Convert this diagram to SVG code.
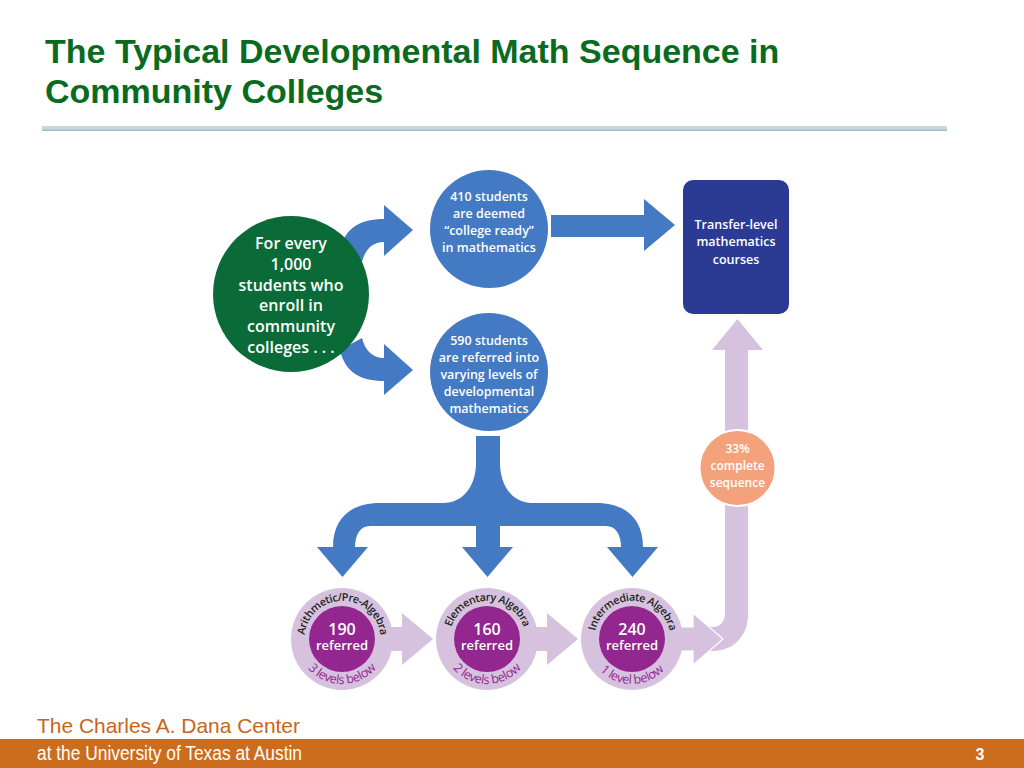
<svg xmlns="http://www.w3.org/2000/svg" width="1024" height="768" viewBox="0 0 1024 768">
<style>
.title{font-family:"Liberation Sans",Arial,sans-serif;font-weight:bold;font-size:34px;fill:#0a6b1e}
.lbl{font-family:"Open Sans","Noto Sans",sans-serif;font-weight:600;fill:#fff;text-anchor:middle}
.ring{font-family:"Open Sans","Noto Sans",sans-serif;font-weight:600;font-size:10.8px;fill:#231f20;letter-spacing:-0.4px}
.below{font-family:"Open Sans","Noto Sans",sans-serif;font-weight:400;font-size:12.5px;fill:#93268f;letter-spacing:-0.3px}
.blue{fill:#437ac3}
.lav{fill:#d6c2df}
.purple{fill:#93268f}
</style>
<defs>
<path id="topA" d="M306.8,651.8 A38,38 0 1,1 378.2,651.8"/>
<path id="topB" d="M451.8,651.8 A38,38 0 1,1 523.2,651.8"/>
<path id="topC" d="M596.8,651.8 A38,38 0 1,1 668.2,651.8"/>
<path id="botA" d="M299.7,623.6 A45,45 0 1,0 384.3,623.6"/>
<path id="botB" d="M444.7,623.6 A45,45 0 1,0 529.3,623.6"/>
<path id="botC" d="M589.7,623.6 A45,45 0 1,0 674.3,623.6"/>
</defs>
<rect width="1024" height="768" fill="#fff"/>

<g id="header">
<text class="title" x="45" y="63">The Typical Developmental Math Sequence in</text>
<text class="title" x="45" y="103">Community Colleges</text>
<rect x="42" y="126" width="905" height="4" fill="#c3dae0"/>
<rect x="42" y="129.5" width="905" height="1.5" fill="#a5bdc4"/>
</g>

<g id="connectors">
<path class="blue" d="M340,250 C345,228 360,219 384,219 L384,205 L413,230 L384,256 L384,242 C372,242 365,250 362,262 Z"/>
<path class="blue" d="M340,350 C345,372 360,381 384,381 L384,395 L413,370 L384,344 L384,358 C372,358 365,350 362,338 Z"/>
<path class="blue" d="M551,215 L644,215 L644,199 L675,225 L644,251 L644,237 L551,237 Z"/>
<path class="blue" d="M476,436 L500,436 L500,463 C500,485 512,503 532,503 L596,503 C625,503 643,518 643,547 L658,547 L632.5,577 L607,547 L621,547 C621,535 616,526 606,526 L500,526 L500,547 L513,547 L487.5,577 L462,547 L476,547 L476,526 L370,526 C360,526 355,535 355,547 L368,547 L342.5,577 L317,547 L333,547 C333,518 351,503 380,503 L443,503 C464,503 476,485 476,463 Z"/>
<path class="lav" d="M705,627 L713,627 C720,627 725,622 725,612 L725,350 L712,350 L737.5,319 L763,350 L748,350 L748,615 C748,636 733,651 713,651 L705,651 Z"/>
<path class="lav" d="M385,627 L402,627 L402,613 L433,639 L402,665 L402,651 L385,651 Z"/>
<path class="lav" d="M530,627 L547,627 L547,613 L578,639 L547,665 L547,651 L530,651 Z"/>
<path class="lav" d="M675,627 L693,627 L693,613 L723,639 L693,665 L693,651 L675,651 Z" stroke="#fff" stroke-width="1.2"/>
</g>

<g id="node-start">
<circle cx="291" cy="294" r="78" fill="#0b6b38"/>
<text class="lbl" font-size="16" x="291" y="249">For every</text>
<text class="lbl" font-size="16" x="291" y="270">1,000</text>
<text class="lbl" font-size="16" x="291" y="291">students who</text>
<text class="lbl" font-size="16" x="291" y="311">enroll in</text>
<text class="lbl" font-size="16" x="291" y="332">community</text>
<text class="lbl" font-size="16" x="291" y="353">colleges . . .</text>
</g>

<g id="node-ready">
<circle cx="489" cy="229" r="59" class="blue"/>
<text class="lbl" font-size="12.5" x="489" y="200.5">410 students</text>
<text class="lbl" font-size="12.5" x="489" y="217.5">are deemed</text>
<text class="lbl" font-size="12.5" x="489" y="234.5">“college ready”</text>
<text class="lbl" font-size="12.5" x="489" y="251.5">in mathematics</text>
</g>

<g id="node-referred">
<circle cx="489" cy="372" r="59" class="blue"/>
<text class="lbl" font-size="12.5" x="489" y="344.5">590 students</text>
<text class="lbl" font-size="12.5" x="489" y="361.5">are referred into</text>
<text class="lbl" font-size="12.5" x="489" y="378.5">varying levels of</text>
<text class="lbl" font-size="12.5" x="489" y="395.5">developmental</text>
<text class="lbl" font-size="12.5" x="489" y="412.5">mathematics</text>
</g>

<g id="node-transfer">
<rect x="683" y="180" width="106" height="134" rx="10" fill="#2b3a92"/>
<text class="lbl" font-size="12.5" x="736" y="228.5">Transfer-level</text>
<text class="lbl" font-size="12.5" x="736" y="246">mathematics</text>
<text class="lbl" font-size="12.5" x="736" y="263.5">courses</text>
</g>

<g id="node-complete">
<circle cx="737.5" cy="468" r="38" fill="#f4a27c" stroke="#fff" stroke-width="2"/>
<text class="lbl" font-size="12" x="737.5" y="453">33%</text>
<text class="lbl" font-size="12" x="737.5" y="470">complete</text>
<text class="lbl" font-size="12" x="737.5" y="487">sequence</text>
</g>

<g id="node-arithmetic">
<circle cx="342" cy="639" r="51" class="lav"/>
<circle cx="342" cy="639" r="33" class="purple"/>
<text class="ring"><textPath href="#topA" startOffset="50%" text-anchor="middle">Arithmetic/Pre-Algebra</textPath></text>
<text class="below"><textPath href="#botA" startOffset="50%" text-anchor="middle">3 levels below</textPath></text>
<text class="lbl" font-size="16" x="342" y="635">190</text>
<text class="lbl" font-size="13" x="342" y="650">referred</text>
</g>

<g id="node-elementary">
<circle cx="487" cy="639" r="51" class="lav"/>
<circle cx="487" cy="639" r="33" class="purple"/>
<text class="ring"><textPath href="#topB" startOffset="50%" text-anchor="middle">Elementary Algebra</textPath></text>
<text class="below"><textPath href="#botB" startOffset="50%" text-anchor="middle">2 levels below</textPath></text>
<text class="lbl" font-size="16" x="487" y="635">160</text>
<text class="lbl" font-size="13" x="487" y="650">referred</text>
</g>

<g id="node-intermediate">
<circle cx="632" cy="639" r="51" class="lav"/>
<circle cx="632" cy="639" r="33" class="purple"/>
<text class="ring"><textPath href="#topC" startOffset="50%" text-anchor="middle">Intermediate Algebra</textPath></text>
<text class="below"><textPath href="#botC" startOffset="50%" text-anchor="middle">1 level below</textPath></text>
<text class="lbl" font-size="16" x="632" y="635">240</text>
<text class="lbl" font-size="13" x="632" y="650">referred</text>
</g>

<g id="footer">
<text x="37" y="733" font-family="Liberation Sans,Arial,sans-serif" font-size="21" fill="#c9651b" textLength="263" lengthAdjust="spacingAndGlyphs">The Charles A. Dana Center</text>
<rect x="0" y="739" width="1024" height="29" fill="#cc6d1e"/>
<text x="37" y="760" font-family="Liberation Sans,Arial,sans-serif" font-size="19.5" fill="#fff" textLength="265" lengthAdjust="spacingAndGlyphs">at the University of Texas at Austin</text>
<text x="980" y="760" font-family="Liberation Sans,Arial,sans-serif" font-size="16" font-weight="bold" fill="#fff" text-anchor="middle">3</text>
</g>
</svg>
